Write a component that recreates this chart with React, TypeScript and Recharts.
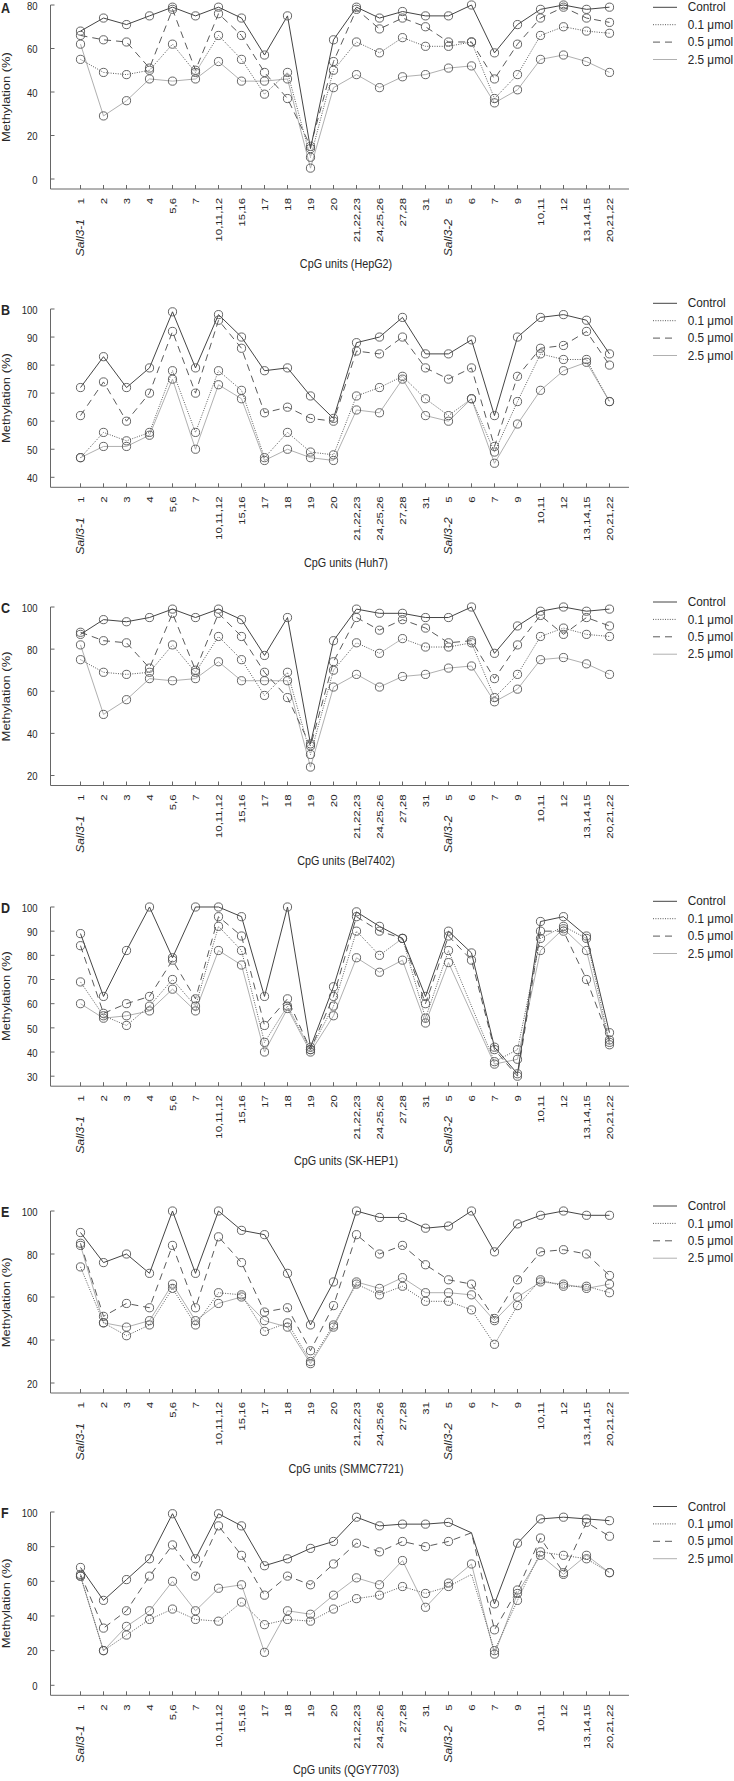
import React from "react";
import { LineChart, Line, XAxis, YAxis } from "recharts";

// CpG units along the x axis (Sall3-1 block, then Sall3-2 block)
const cpgUnits = [
  "1", "2", "3", "4", "5,6", "7", "10,11,12", "15,16", "17", "18", "19", "20",
  "21,22,23", "24,25,26", "27,28", "31", "5", "6", "7", "9", "10,11", "12",
  "13,14,15", "20,21,22",
];
const geneLabels = [
  { index: 0, name: "Sall3-1" },
  { index: 16, name: "Sall3-2" },
];
const seriesNames = ["Control", "0.1 μmol", "0.5 μmol", "2.5 μmol"];

// HepG2
const hepg2Control = [68, 74, 71, 75, 79, 75, 79, 74, 57, 75, 14, 64, 79, 74, 77, 75, 75, 80, 58, 71, 78, 80, 78, 79];
const hepg2Low = [55, 49, 48, 50, 62, 49, 66, 55, 39, 49, 10, 50, 63, 58, 65, 61, 61, 63, 37, 48, 66, 70, 68, 67];
const hepg2Mid = [66, 64, 63, 51, 78, 50, 76, 66, 49, 37, 15, 54, 78, 69, 74, 70, 63, 63, 46, 62, 74, 79, 74, 72];
const hepg2High = [62, 29, 36, 46, 45, 46, 54, 45, 45, 46, 5, 42, 48, 42, 47, 48, 51, 52, 35, 41, 55, 57, 54, 49];

// Huh7
const huh7Control = [72, 83, 72, 79, 99, 79, 98, 90, 78, 79, 69, 61, 88, 90, 97, 84, 84, 89, 62, 90, 97, 98, 96, 84];
const huh7Low = [47, 56, 53, 56, 78, 56, 78, 71, 47, 56, 49, 48, 69, 72, 76, 68, 62, 68, 49, 67, 84, 82, 82, 67];
const huh7Mid = [62, 74, 60, 70, 92, 70, 96, 86, 63, 65, 61, 60, 85, 84, 90, 79, 75, 79, 51, 76, 86, 87, 92, 80];
const huh7High = [47, 51, 51, 55, 75, 50, 73, 68, 46, 50, 47, 46, 64, 63, 75, 62, 60, 68, 45, 59, 71, 78, 81, 67];

// Bel7402
const bel7402Control = [87, 94, 93, 95, 99, 95, 99, 94, 77, 95, 35, 84, 99, 97, 97, 95, 95, 100, 78, 91, 98, 100, 98, 99];
const bel7402Low = [75, 69, 68, 69, 82, 69, 86, 75, 58, 69, 30, 70, 83, 78, 85, 81, 81, 83, 57, 68, 86, 90, 87, 86];
const bel7402Mid = [88, 84, 83, 71, 97, 70, 97, 86, 69, 57, 34, 74, 95, 89, 94, 90, 83, 84, 66, 82, 96, 87, 95, 91];
const bel7402High = [82, 49, 56, 66, 65, 66, 74, 65, 65, 65, 24, 62, 68, 62, 67, 68, 71, 72, 55, 61, 75, 76, 73, 68];

// SK-HEP1
const skhep1Control = [89, 63, 82, 100, 79, 100, 100, 96, 63, 100, 42, 67, 98, 92, 87, 63, 90, 81, 42, 31, 94, 96, 88, 48];
const skhep1Low = [69, 55, 51, 59, 70, 59, 92, 82, 44, 59, 41, 59, 90, 80, 87, 54, 82, null, 36, 41, 87, 92, 87, 44];
const skhep1Mid = [84, 56, 60, 63, 78, 62, 96, 88, 51, 62, 41, 63, 96, 90, 87, 60, 88, 78, 41, 30, 90, 90, 70, 45];
const skhep1High = [60, 54, 55, 57, 66, 57, 82, 76, 40, 58, 40, 55, 79, 73, 78, 52, 77, null, 35, 37, 82, 91, 82, 43];

// SMMC7721
const smmcControl = [90, 76, 80, 71, 100, 71, 100, 91, 89, 71, 47, 67, 100, 97, 97, 92, 93, 100, 81, 94, 98, 100, 98, 98];
const smmcLow = [74, 48, 42, 47, 64, 47, 62, 61, 44, 48, 30, 47, 66, 61, 65, 58, 58, 54, 38, 56, 68, 65, 65, 62];
const smmcMid = [85, 51, 57, 55, 84, 55, 88, 76, 53, 55, 35, 56, 89, 80, 84, 75, 68, 66, 50, 68, 81, 82, 80, 70];
const smmcHigh = [84, 48, 46, 49, 66, 49, 57, 60, 49, 46, 29, 46, 67, 64, 69, 62, 62, 61, 49, 60, 67, 66, 64, 66];

// QGY7703
const qgyControl = [68, 49, 61, 73, 99, 73, 99, 92, 69, 73, 79, 83, 97, 92, 93, 93, 94, 88, 47, 82, 96, 97, 96, 95];
const qgyLow = [63, 20, 29, 38, 44, 38, 37, 48, 35, 38, 37, 44, 50, 52, 57, 53, 57, 64, 20, 49, 77, 75, 73, 65];
const qgyMid = [64, 33, 43, 63, 81, 63, 92, 75, 52, 63, 58, 70, 82, 77, 83, 80, 83, 88, 32, 55, 85, 65, 94, 86];
const qgyHigh = [63, 20, 34, 43, 60, 43, 56, 58, 19, 43, 41, 52, 62, 58, 72, 45, 59, 70, 18, 53, 75, 64, 75, 65];
// points drawn without a circle in the source (line only bends there)
const qgyNoMarker: Record<string, number[]> = { control: [17], mid: [17], low: [17] };

const W = 734;
const AXIS_X = 50.5;
const PLOT_RIGHT = 629;
const X_AXIS_H = 100;
const MARGIN_TOP = 12;
const FONT = "'Liberation Sans', Arial, sans-serif";
const TEXT = "#262626";
const AXIS = "#666";
const STRETCH = 1.2;

const panels = [
  { letter: "A", cell: "HepG2", top: 5, span: 174, ticks: [0, 20, 40, 60, 80], legendY: 7.3,
    series: [hepg2Control, hepg2Low, hepg2Mid, hepg2High], noMarker: {} },
  { letter: "B", cell: "Huh7", top: 309, span: 168.3, ticks: [40, 50, 60, 70, 80, 90, 100], legendY: 303.3,
    series: [huh7Control, huh7Low, huh7Mid, huh7High], noMarker: {} },
  { letter: "C", cell: "Bel7402", top: 607.2, span: 168.5, ticks: [20, 40, 60, 80, 100], legendY: 602,
    series: [bel7402Control, bel7402Low, bel7402Mid, bel7402High], noMarker: {} },
  { letter: "D", cell: "SK-HEP1", top: 906.5, span: 169.2, ticks: [30, 40, 50, 60, 70, 80, 90, 100], legendY: 901.3,
    series: [skhep1Control, skhep1Low, skhep1Mid, skhep1High], noMarker: {} },
  { letter: "E", cell: "SMMC7721", top: 1211.3, span: 172, ticks: [20, 40, 60, 80, 100], legendY: 1206,
    series: [smmcControl, smmcLow, smmcMid, smmcHigh], noMarker: {} },
  { letter: "F", cell: "QGY7703", top: 1511.7, span: 173.3, ticks: [0, 20, 40, 60, 80, 100], legendY: 1506.5,
    series: [qgyControl, qgyLow, qgyMid, qgyHigh], noMarker: qgyNoMarker },
];

const lineStyles = [
  { key: "control", stroke: "#444", dash: undefined, width: 1 },
  { key: "low", stroke: "#5a5a5a", dash: "1 1.4", width: 1 },
  { key: "mid", stroke: "#5a5a5a", dash: "7 5", width: 1 },
  { key: "high", stroke: "#b0b0b0", dash: undefined, width: 1 },
];

// text squeezed/stretched like the source figure (it was scaled taller than wide)
function SText({ x, y, size, rotate = 0, k = STRETCH, anchor = "start", baseline, weight, italic, children }: any) {
  const sc = rotate ? `scale(${k},1)` : `scale(1,${k})`;
  return (
    <text
      transform={`translate(${x},${y}) rotate(${rotate}) ${sc}`}
      fontSize={size}
      fontFamily={FONT}
      fill={TEXT}
      textAnchor={anchor}
      dominantBaseline={baseline}
      fontWeight={weight}
      fontStyle={italic ? "italic" : undefined}
    >
      {children}
    </text>
  );
}

function YTick(props: any) {
  const { x, y, payload } = props;
  return (
    <g>
      <line x1={x} x2={x + 4} y1={y} y2={y} stroke={AXIS} />
      <SText x={x - 13} y={y + 1} size={9.5} anchor="end" baseline="central">
        {payload.value}
      </SText>
    </g>
  );
}

function XTick(props: any) {
  const { x, y, payload } = props;
  const i = Number(payload.value);
  const gene = geneLabels.find((g) => g.index === i);
  return (
    <g>
      <line x1={x} x2={x} y1={y} y2={y - 4} stroke={AXIS} />
      <SText x={x} y={y + 9} size={9.5} rotate={-90} anchor="end" baseline="central">
        {cpgUnits[i]}
      </SText>
      {gene && (
        <SText x={x} y={y + 30} size={10} rotate={-90} anchor="end" baseline="central" italic>
          {gene.name}
        </SText>
      )}
    </g>
  );
}

function Marker(props: any) {
  const { cx, cy, index, dataKey, hidden } = props;
  const key = `${dataKey}-${index}`;
  if (cx == null || cy == null || Number.isNaN(cy) || (hidden && hidden.includes(index))) return <g key={key} />;
  return <circle key={key} cx={cx} cy={cy} r={4.1} fill="none" stroke="#555" strokeWidth={0.9} />;
}

function Panel({ cfg }: any) {
  const data = cpgUnits.map((u, i) => ({
    pos: i,
    unit: u,
    control: cfg.series[0][i],
    low: cfg.series[1][i],
    mid: cfg.series[2][i],
    high: cfg.series[3][i],
  }));
  const height = MARGIN_TOP + cfg.span + 10 + X_AXIS_H;
  const ticks = cfg.ticks;
  return (
    <div style={{ position: "absolute", left: 0, top: cfg.top - MARGIN_TOP, width: W, height }}>
      <LineChart
        width={W}
        height={height}
        data={data}
        margin={{ top: MARGIN_TOP, right: W - PLOT_RIGHT, bottom: 0, left: 0 }}
      >
        <XAxis
          dataKey="pos"
          type="category"
          scale="point"
          padding={{ left: 30, right: 19.5 }}
          height={X_AXIS_H}
          interval={0}
          tickLine={false}
          tickSize={0}
          tickMargin={0}
          axisLine={{ stroke: AXIS }}
          tick={(p: any) => <XTick {...p} />}
        />
        <YAxis
          type="number"
          domain={[ticks[0], ticks[ticks.length - 1]]}
          ticks={ticks}
          interval={0}
          padding={{ top: 0, bottom: 10 }}
          width={AXIS_X}
          tickLine={false}
          tickSize={0}
          tickMargin={0}
          axisLine={{ stroke: AXIS }}
          tick={(p: any) => <YTick {...p} />}
        />
        {lineStyles
          .slice()
          .reverse()
          .map((s) => (
            <Line
              key={s.key}
              dataKey={s.key}
              type="linear"
              stroke={s.stroke}
              strokeWidth={s.width}
              strokeDasharray={s.dash}
              connectNulls
              dot={(p: any) => <Marker {...p} hidden={cfg.noMarker[s.key]} />}
              activeDot={false}
              isAnimationActive={false}
            />
          ))}
      </LineChart>
    </div>
  );
}

function Overlay() {
  return (
    <svg width={W} height={1781} style={{ position: "absolute", left: 0, top: 0, pointerEvents: "none" }}>
      {panels.map((p) => {
        const axisY = p.top + p.span + 10;
        const mid = (p.top + axisY) / 2;
        return (
          <g key={p.letter}>
            <SText x={1} y={Math.max(p.top + 6, 13)} size={12.5} k={1.15} weight="bold">
              {p.letter}
            </SText>
            <SText x={10} y={mid} size={10.8} rotate={-90} anchor="middle">
              Methylation (%)
            </SText>
            <SText x={346} y={axisY + 75} size={10.8} anchor="middle" baseline="central">
              {`CpG units (${p.cell})`}
            </SText>
            {lineStyles.map((s, i) => {
              const ry = p.legendY + 17.4 * i;
              return (
                <g key={s.key}>
                  <line x1={653} x2={677} y1={ry} y2={ry} stroke={s.stroke} strokeWidth={s.width} strokeDasharray={s.dash} />
                  <SText x={687.7} y={ry} size={11.8} k={1.1} baseline="central">
                    {seriesNames[i]}
                  </SText>
                </g>
              );
            })}
          </g>
        );
      })}
    </svg>
  );
}

export default function App() {
  return (
    <div style={{ position: "absolute", left: 0, top: 0, width: W, height: 1781, background: "#fff", overflow: "hidden" }}>
      {panels.map((p) => (
        <Panel key={p.letter} cfg={p} />
      ))}
      <Overlay />
    </div>
  );
}
